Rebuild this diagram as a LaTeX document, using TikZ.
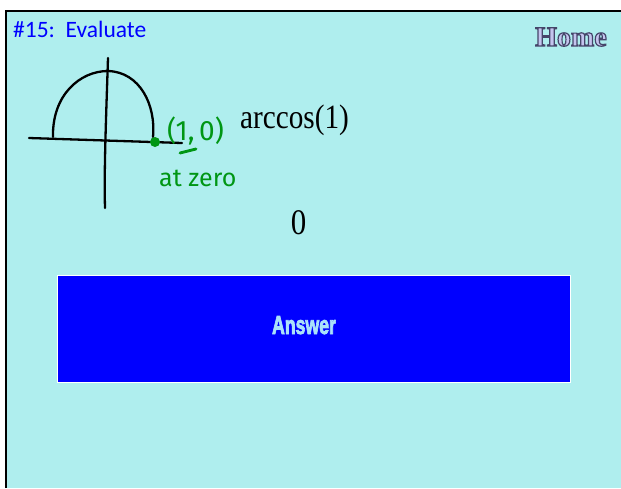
\documentclass[tikz,border=0pt]{standalone}
\usepackage{fontspec}
\setmainfont{Liberation Serif}
\newfontfamily\uifont{Carlito}
\newfontfamily\handfont{Fira Sans}
\newfontfamily\btnfont{Liberation Sans}
\usetikzlibrary{positioning}
\definecolor{panelcyan}{RGB}{175,238,238}
\definecolor{titleblue}{RGB}{0,0,255}
\definecolor{btnblue}{RGB}{0,0,255}
\definecolor{btntext}{RGB}{170,225,250}
\definecolor{inkgreen}{RGB}{0,150,20}
\definecolor{homefill}{RGB}{196,196,238}
\newcommand{\outlined}[1]{\special{pdf:literal 2 Tr 1.2 w 0.27 0.27 0.41 RG}#1\special{pdf:literal 0 Tr}}
\newcommand{\heavy}[1]{\special{pdf:literal 2 Tr 0.9 w 0.667 0.882 0.98 RG}#1\special{pdf:literal 0 Tr}}

\begin{document}
\begin{tikzpicture}[x=1pt, y=-1pt,
    ink/.style={line width=2.3pt, line cap=round, line join=round},
    greenink/.style={ink, draw=inkgreen, line width=2.8pt},
    hand/.style={text=inkgreen, font=\handfont\fontsize{25}{28}\selectfont, inner sep=0pt},
    mathtext/.style={font=\fontsize{34}{38}\selectfont, inner sep=0pt, xscale=0.86}
]
    % page and panel
    \useasboundingbox (0,0) rectangle (621,488);
    \fill[white] (0,0) rectangle (621,488);
    \fill[panelcyan] (5,10) rectangle (621,488);
    \draw[line width=2pt] (6,488) -- (6,11) -- (621,11);

    % header
    \node[anchor=base west, inner sep=0pt, text=titleblue,
          font=\uifont\fontsize{23.5}{26}\selectfont] (title) at (13,37) {\#15:\ \ Evaluate};
    \node[anchor=base west, inner sep=0pt, text=homefill,
          font=\bfseries\fontsize{28}{30}\selectfont] (home) at (535,46) {\outlined{Home}};

    % sketch of the unit circle
    \draw[ink] (29,138) -- (182,143);
    \draw[ink] (108,58) .. controls (106,120) and (104,170) .. (105,208);
    \draw[ink] (53,137) .. controls (52,95) and (80,71) .. (108,71)
                        .. controls (140,72) and (156,105) .. (153,137);
    \node[circle, fill=inkgreen, inner sep=0pt, minimum size=10pt] (pt) at (155,142) {};
    \node[hand, anchor=west, font=\handfont\fontsize{28}{30}\selectfont] (coord) at (167,131) {(1,\,0)};
    \draw[greenink] (180,153) -- (196,149);
    \node[hand, anchor=base west] (zero) at (159,186) {at zero};

    % problem and answer
    \node[mathtext, anchor=base west] (prob) at (240,128) {arccos(1)};
    \node[mathtext, anchor=base, font=\fontsize{36}{40}\selectfont] (val) at (298.5,234) {0};

    \node[draw=white, line width=1pt, fill=btnblue, minimum width=513pt, minimum height=107pt,
          inner sep=0pt] (btn) at (313.5,329) {};
    \node[anchor=base, inner sep=0pt, text=btntext, xscale=0.68,
          font=\btnfont\bfseries\fontsize{26}{28}\selectfont] (ans) at (304,334) {\heavy{Answer}};
\end{tikzpicture}
\end{document}
